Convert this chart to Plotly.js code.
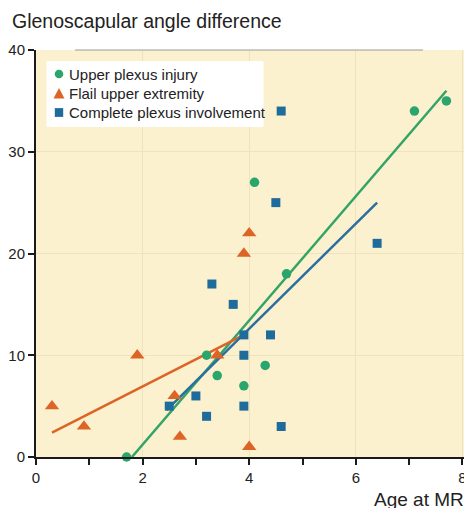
<!DOCTYPE html>
<html>
<head>
<meta charset="utf-8">
<script src="https://cdn.plot.ly/plotly-3.0.1.min.js"></script>
<style>html,body{margin:0;padding:0;background:#fff;}#chart{width:464px;height:508px;}</style>
</head>
<body>
<div id="chart"></div>
<script>
// Series names
const seriesNames = ["Upper plexus injury", "Flail upper extremity", "Complete plexus involvement"];

// Upper plexus injury (green circles)
const upperAge = [1.7, 3.2, 3.4, 3.9, 4.3, 4.7, 4.1, 7.1, 7.7];
const upperAngle = [0, 10, 8, 7, 9, 18, 27, 34, 35];

// Flail upper extremity (orange triangles)
const flailAge = [0.3, 0.9, 1.9, 2.6, 2.7, 3.4, 3.9, 4.0, 4.0];
const flailAngle = [5, 3, 10, 6, 2, 10, 20, 22, 1];

// Complete plexus involvement (blue squares)
const completeAge = [4.6, 4.5, 6.4, 3.3, 3.7, 3.9, 4.4, 3.9, 2.5, 3.0, 3.2, 3.9, 4.6];
const completeAngle = [34, 25, 21, 17, 15, 12, 12, 10, 5, 6, 4, 5, 3];

// Fitted trend line end points
const upperFitX = [1.8, 7.7];
const upperFitY = [0, 36];
const flailFitX = [0.3, 3.9];
const flailFitY = [2.4, 12];
const completeFitX = [2.45, 6.4];
const completeFitY = [4.6, 25];

// Axis ticks
const xTickVals = [0, 2, 4, 6, 8];
const yTickVals = [0, 10, 20, 30, 40];

const green = "#2aa56c", orange = "#dd6427", blue = "#1f6c9c";
const fontFam = "Liberation Sans, Arial, Helvetica, sans-serif";

// Layout geometry (pixels) used to place the hand-built legend box
const W = 464, H = 508, ML = 36, MR = 0, MT = 50, MB = 51;
const pw = W - ML - MR, ph = H - MT - MB;
const PX = p => (p - ML) / pw;
const PY = p => (H - MB - p) / ph;

const traces = [
  {x: upperFitX, y: upperFitY, mode: "lines", line: {color: "#33a465", width: 2.5}, showlegend: false, hoverinfo: "skip"},
  {x: flailFitX, y: flailFitY, mode: "lines", line: {color: "#dc6426", width: 2.5}, showlegend: false, hoverinfo: "skip"},
  {x: completeFitX, y: completeFitY, mode: "lines", line: {color: "#2c6ea0", width: 2.5}, showlegend: false, hoverinfo: "skip"},
  {x: upperAge, y: upperAngle, mode: "markers", name: seriesNames[0], showlegend: false,
   marker: {symbol: "circle", size: 9.5, color: green}, cliponaxis: false},
  {x: flailAge, y: flailAngle, mode: "markers", name: seriesNames[1], showlegend: false,
   marker: {symbol: "triangle-up", size: 12.5, color: orange}, cliponaxis: false},
  {x: completeAge, y: completeAngle, mode: "markers", name: seriesNames[2], showlegend: false,
   marker: {symbol: "square", size: 9, color: blue}, cliponaxis: false}
];

// Legend (key) built from the series names and colours
const legendRows = [74, 93.5, 112.5];
const keyCx = 59;
const shapes = [
  {type: "line", xref: "x", yref: "paper", x0: 0.73, x1: 7.26, y0: 1, y1: 1,
   line: {color: "#9a9a9a", width: 1}},
  {type: "rect", xref: "paper", yref: "paper", x0: PX(46.7), x1: PX(263.5), y0: PY(127), y1: PY(61),
   fillcolor: "#ffffff", line: {width: 0}},
  {type: "circle", xref: "paper", yref: "paper", x0: PX(keyCx - 4.3), x1: PX(keyCx + 4.3),
   y0: PY(legendRows[0] + 4.3), y1: PY(legendRows[0] - 4.3), fillcolor: green, line: {width: 0}},
  {type: "path", xref: "paper", yref: "paper",
   path: `M${PX(keyCx - 5.5)},${PY(legendRows[1] + 5)} L${PX(keyCx + 5.5)},${PY(legendRows[1] + 5)} L${PX(keyCx)},${PY(legendRows[1] - 5.5)} Z`,
   fillcolor: orange, line: {width: 0}},
  {type: "rect", xref: "paper", yref: "paper", x0: PX(keyCx - 4.2), x1: PX(keyCx + 4.2),
   y0: PY(legendRows[2] + 4.4), y1: PY(legendRows[2] - 4.4), fillcolor: blue, line: {width: 0}}
];

const annotations = [
  {text: "Glenoscapular angle difference", xref: "paper", yref: "paper",
   x: PX(10), y: PY(21), xanchor: "left", yanchor: "middle", showarrow: false,
   font: {size: 19.5, color: "#222", family: fontFam}},
  {text: "Age at MRI (years)", xref: "paper", yref: "paper",
   x: PX(372), y: PY(499), xanchor: "left", yanchor: "middle", showarrow: false,
   font: {size: 19, color: "#222", family: fontFam}}
];
seriesNames.forEach((name, i) => {
  annotations.push({text: name, xref: "paper", yref: "paper",
    x: PX(67), y: PY(legendRows[i]), xanchor: "left", yanchor: "middle", showarrow: false,
    font: {size: 15, color: "#222", family: fontFam}});
});

const layout = {
  width: W, height: H,
  margin: {l: ML, r: MR, t: MT, b: MB, pad: 0},
  paper_bgcolor: "#ffffff",
  plot_bgcolor: "#fcf1cf",
  font: {family: fontFam, color: "#222", size: 15},
  xaxis: {
    range: [0, 8.03], tickvals: xTickVals, ticktext: xTickVals.map(String),
    showgrid: true, gridcolor: "#efe2bd", gridwidth: 1,
    zeroline: false, showline: true, linecolor: "#1a1a1a", linewidth: 2,
    ticks: "outside", ticklen: 6, tickwidth: 2, tickcolor: "#1a1a1a",
    ticklabeloverflow: "allow",
    minor: {dtick: 1, tick0: 0, ticks: "outside", ticklen: 6, tickwidth: 2, tickcolor: "#1a1a1a", showgrid: false},
    tickfont: {size: 15, color: "#222"}, fixedrange: true
  },
  yaxis: {
    range: [0, 40], tickvals: yTickVals, ticktext: yTickVals.map(String),
    showgrid: true, gridcolor: "#efe2bd", gridwidth: 1,
    zeroline: false, showline: true, linecolor: "#1a1a1a", linewidth: 2,
    ticks: "outside", ticklen: 6, tickwidth: 2, tickcolor: "#1a1a1a",
    tickfont: {size: 15, color: "#222"}, fixedrange: true
  },
  shapes: shapes,
  annotations: annotations,
  showlegend: false
};

Plotly.newPlot("chart", traces, layout, {displayModeBar: false, staticPlot: true});
</script>
</body>
</html>
